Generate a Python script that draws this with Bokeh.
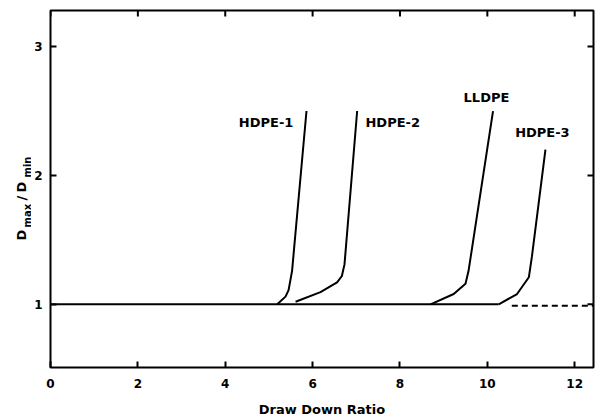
import math
from bokeh.plotting import figure
from bokeh.layouts import row
from bokeh.models import FixedTicker, Label, Range1d
from bokeh.core.properties import value
from bokeh.embed import file_html
from bokeh.resources import INLINE

# ---- data ----
baseline_x = [0.0, 10.26]
baseline_y = [1.0, 1.0]

hdpe1_x = [5.19, 5.38, 5.45, 5.53, 5.86]
hdpe1_y = [1.00, 1.06, 1.11, 1.26, 2.50]

hdpe2_x = [5.61, 6.18, 6.56, 6.67, 6.73, 7.02]
hdpe2_y = [1.02, 1.095, 1.17, 1.22, 1.31, 2.50]

lldpe_x = [8.70, 9.23, 9.50, 9.57, 10.13]
lldpe_y = [1.00, 1.08, 1.16, 1.26, 2.50]

hdpe3_x = [10.26, 10.68, 10.95, 11.02, 11.33]
hdpe3_y = [1.00, 1.08, 1.21, 1.37, 2.20]

dashed_x = [10.56, 12.43]
dashed_y = [0.99, 0.99]

curve_names = ["HDPE-1", "HDPE-2", "LLDPE", "HDPE-3"]
label_x = [5.56, 7.21, 9.98, 11.26]
label_y = [2.41, 2.41, 2.605, 2.333]
label_align = ["right", "left", "center", "center"]

x_ticks = [0, 2, 4, 6, 8, 10, 12]
y_ticks = [1, 2, 3]
x_start, x_end = 0.0, 12.43
y_start, y_end = 0.51, 3.28

FONT = "DejaVu Sans"
H = 420
LAB_W = 31
MAIN_W = 599 - LAB_W
TOP, BOTTOM = 10, 53

# ---- narrow panel holding the rotated y-axis title D_max / D_min ----
lab = figure(width=LAB_W, height=H, output_backend="svg", toolbar_location=None,
             x_range=Range1d(0, LAB_W), y_range=Range1d(y_start, y_end),
             x_axis_type=None, y_axis_type=None,
             min_border_left=0, min_border_right=0, min_border_top=TOP,
             min_border_bottom=BOTTOM)
lab.outline_line_color = None
lab.xgrid.visible = False
lab.ygrid.visible = False
lab.border_fill_color = "white"

big_text = ["D", "/", "D"]
big_x = [21, 21, 21]
big_y = [1.495, 1.805, 1.868]
small_text = ["max", "min"]
small_x = [26.5, 26.5]
small_y = [1.596, 1.984]
lab.text(x=big_x, y=big_y, text=big_text, angle=math.pi / 2, text_align="left",
         text_baseline="alphabetic", text_font=value(FONT), text_font_style="bold",
         text_font_size="13px", text_color="black")
lab.text(x=small_x, y=small_y, text=small_text, angle=math.pi / 2, text_align="left",
         text_baseline="alphabetic", text_font=value(FONT), text_font_style="bold",
         text_font_size="10px", text_color="black")

# ---- main chart ----
p = figure(width=MAIN_W, height=H, output_backend="svg", toolbar_location=None,
           x_range=Range1d(x_start, x_end), y_range=Range1d(y_start, y_end),
           min_border_left=50 - LAB_W, min_border_right=6, min_border_top=TOP,
           min_border_bottom=BOTTOM)
p.background_fill_color = "white"
p.border_fill_color = "white"
p.outline_line_color = "black"
p.outline_line_width = 2
p.xgrid.visible = False
p.ygrid.visible = False

for ax in (p.xaxis[0], p.yaxis[0]):
    ax.axis_line_color = None
    ax.major_tick_in = 6
    ax.major_tick_out = 0
    ax.major_tick_line_width = 2
    ax.minor_tick_line_color = None
    ax.major_label_text_font = FONT
    ax.major_label_text_font_style = "bold"
    ax.major_label_text_font_size = "12px"
    ax.major_label_text_color = "black"

p.xaxis[0].ticker = FixedTicker(ticks=x_ticks)
p.yaxis[0].ticker = FixedTicker(ticks=y_ticks)
p.xaxis[0].major_label_standoff = 11
p.yaxis[0].major_label_standoff = 8
p.xaxis[0].axis_label = "Draw Down Ratio"
p.xaxis[0].axis_label_text_font = FONT
p.xaxis[0].axis_label_text_font_style = "bold"
p.xaxis[0].axis_label_text_font_size = "13px"
p.xaxis[0].axis_label_text_color = "black"
p.xaxis[0].axis_label_standoff = 11

# mirrored inward ticks on the top and right edges of the frame
tick_dy = 6 * (y_end - y_start) / 357.0
tick_dx = 6 * (x_end - x_start) / 543.0
p.segment(x0=x_ticks, y0=[y_end] * len(x_ticks), x1=x_ticks,
          y1=[y_end - tick_dy] * len(x_ticks), line_color="black", line_width=2)
p.segment(x0=[x_end] * len(y_ticks), y0=y_ticks, x1=[x_end - tick_dx] * len(y_ticks),
          y1=y_ticks, line_color="black", line_width=2)

lw = 2
p.line(baseline_x, baseline_y, line_color="black", line_width=lw)
p.line(hdpe1_x, hdpe1_y, line_color="black", line_width=lw)
p.line(hdpe2_x, hdpe2_y, line_color="black", line_width=lw)
p.line(lldpe_x, lldpe_y, line_color="black", line_width=lw)
p.line(hdpe3_x, hdpe3_y, line_color="black", line_width=lw)
p.line(dashed_x, dashed_y, line_color="black", line_width=lw, line_dash="6 4")

for name, lx, ly, al in zip(curve_names, label_x, label_y, label_align):
    p.add_layout(Label(x=lx, y=ly, text=name, text_align=al, text_baseline="middle",
                       text_font=FONT, text_font_style="bold", text_font_size="13px",
                       text_color="black"))

layout = row(lab, p, spacing=0)
open("out.html", "w").write(file_html(layout, INLINE))
